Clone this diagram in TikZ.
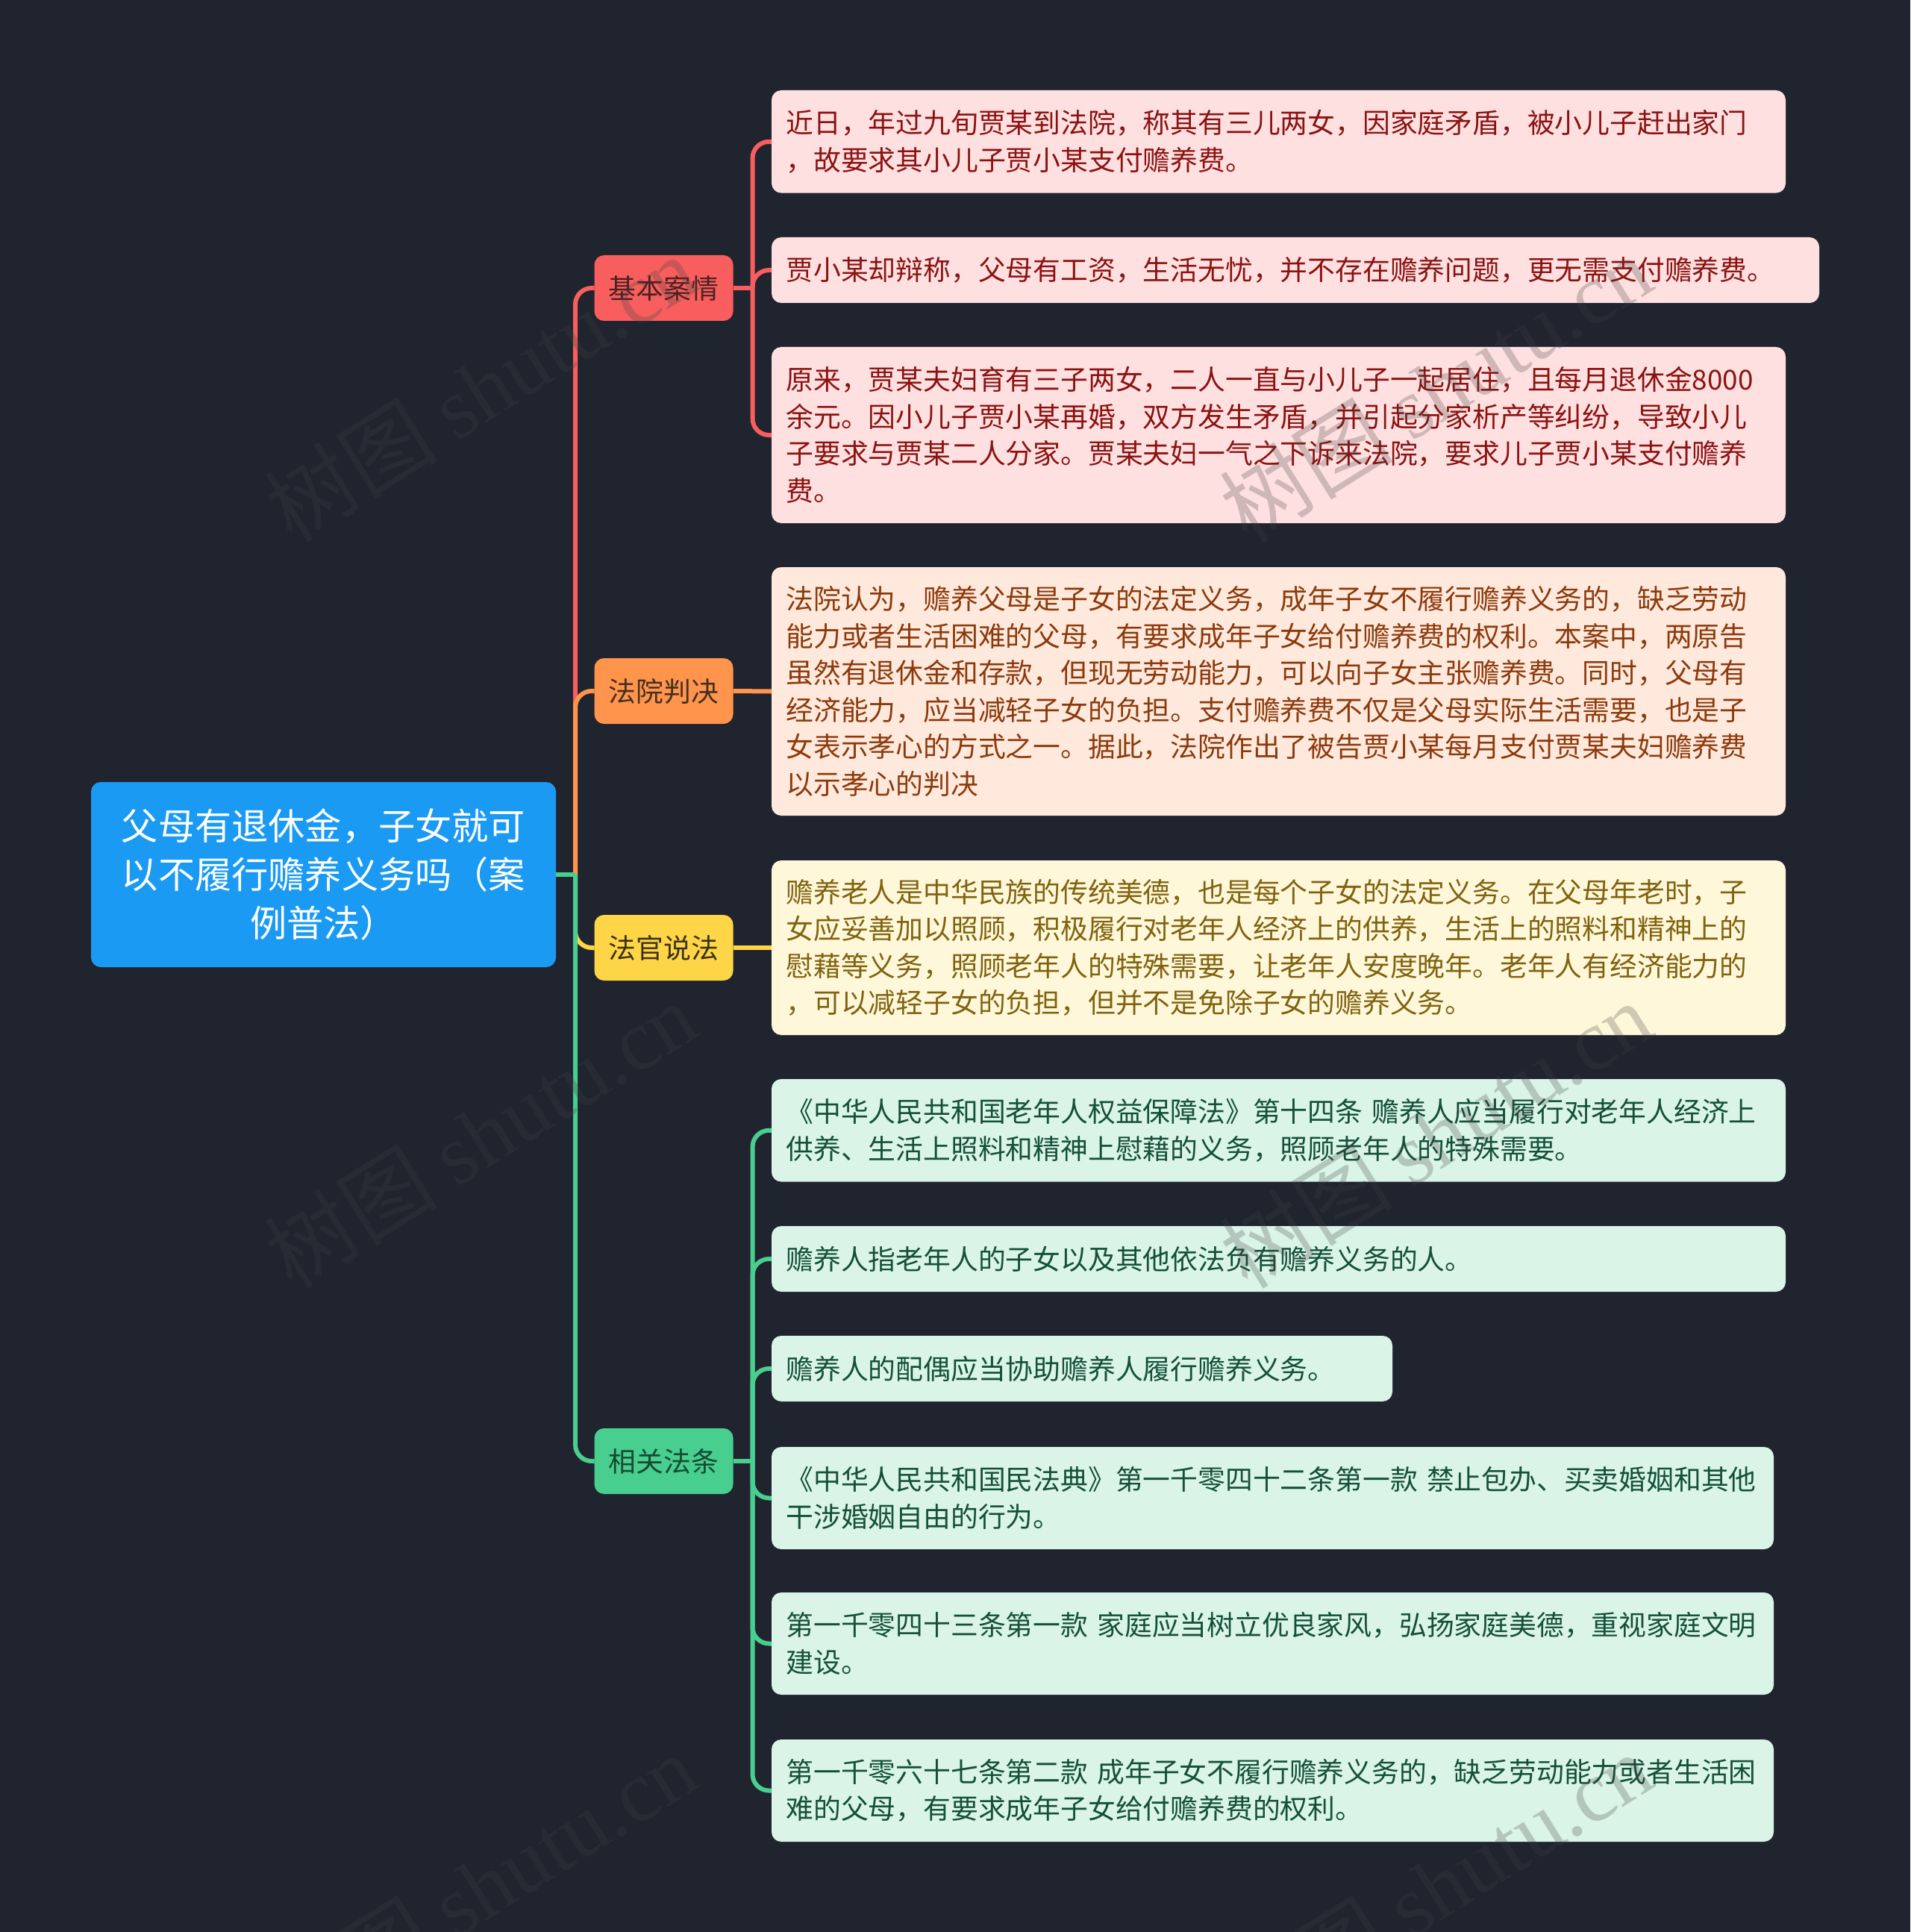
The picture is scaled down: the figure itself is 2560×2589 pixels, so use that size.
\documentclass[tikz,border=0pt]{standalone}
\usepackage{fontspec}
\setmainfont{Noto Sans CJK SC}
\newfontfamily\wmfont{Liberation Serif}
\newfontfamily\wmcjk{Noto Sans CJK SC}

\definecolor{bgcol}{HTML}{20242F}
\definecolor{rootcol}{HTML}{1A9AF2}
\definecolor{redcol}{HTML}{F85E5E}
\definecolor{redleaf}{HTML}{FFE0E0}
\definecolor{redtext}{HTML}{8B1212}
\definecolor{redhead}{HTML}{4A2222}
\definecolor{orangecol}{HTML}{FF944D}
\definecolor{orangeleaf}{HTML}{FFE9DD}
\definecolor{orangetext}{HTML}{8C3A0C}
\definecolor{orangehead}{HTML}{45301F}
\definecolor{yellowcol}{HTML}{FFD548}
\definecolor{yellowleaf}{HTML}{FFF7DA}
\definecolor{yellowtext}{HTML}{80630F}
\definecolor{yellowhead}{HTML}{3A3214}
\definecolor{greencol}{HTML}{48CE8F}
\definecolor{greenleaf}{HTML}{DAF4E8}
\definecolor{greentext}{HTML}{14503A}
\definecolor{greenhead}{HTML}{164A32}
\definecolor{markcol}{HTML}{404040}

\begin{document}
\begin{tikzpicture}[x=0.5pt, y=-0.5pt,
		box/.style={rounded corners=6.5pt, inner sep=0pt, outer sep=0pt},
		rootbox/.style={box, fill=rootcol, text=white, align=center, minimum width=311.5pt, minimum height=124pt, font=\fontsize{24.6}{32.6}\selectfont},
		headbox/.style={box, minimum width=93pt, minimum height=44pt, font=\fontsize{18.4}{24.75}\selectfont},
		leafbox/.style={box, anchor=north west, inner xsep=9.75pt, align=left, font=\fontsize{18.4}{24.75}\selectfont},
		link/.style={line width=3pt, rounded corners=11pt},
		wmark/.style={text=markcol, text opacity=0.25, rotate=32, font=\fontsize{58}{58}\selectfont}]
			\useasboundingbox (0,0) rectangle (2560,2589);
			\fill[bgcol] (0,0) rectangle (2560,2589);
			
			\node[rootbox] (root) at (433.5,1172) {父母有退休金，子女就可\\以不履行赡养义务吗（案\\例普法）};
			
			\node[headbox, fill=redcol, text=redhead] (jiben) at (889.5,386) {基本案情};
			\node[headbox, fill=orangecol, text=orangehead] (fayuan) at (889.5,926) {法院判决};
			\node[headbox, fill=yellowcol, text=yellowhead] (faguan) at (889.5,1270) {法官说法};
			\node[headbox, fill=greencol, text=greenhead] (fatiao) at (889.5,1958) {相关法条};
			
			\node[leafbox, fill=redleaf, text=redtext, text width=660pt, minimum height=68.8pt] (jibenA) at (1034,121) {近日，年过九旬贾某到法院，称其有三儿两女，因家庭矛盾，被小儿子赶出家门\\，故要求其小儿子贾小某支付赡养费。};
			\node[leafbox, fill=redleaf, text=redtext, text width=682.5pt, minimum height=44pt] (jibenB) at (1034,318) {贾小某却辩称，父母有工资，生活无忧，并不存在赡养问题，更无需支付赡养费。};
			\node[leafbox, fill=redleaf, text=redtext, text width=660pt, minimum height=118pt] (jibenC) at (1034,465) {原来，贾某夫妇育有三子两女，二人一直与小儿子一起居住，且每月退休金8000\\余元。因小儿子贾小某再婚，双方发生矛盾，并引起分家析产等纠纷，导致小儿\\子要求与贾某二人分家。贾某夫妇一气之下诉来法院，要求儿子贾小某支付赡养\\费。};
			
			\node[leafbox, fill=orangeleaf, text=orangetext, text width=660pt, minimum height=166.5pt] (fayuanA) at (1034,760) {法院认为，赡养父母是子女的法定义务，成年子女不履行赡养义务的，缺乏劳动\\能力或者生活困难的父母，有要求成年子女给付赡养费的权利。本案中，两原告\\虽然有退休金和存款，但现无劳动能力，可以向子女主张赡养费。同时，父母有\\经济能力，应当减轻子女的负担。支付赡养费不仅是父母实际生活需要，也是子\\女表示孝心的方式之一。据此，法院作出了被告贾小某每月支付贾某夫妇赡养费\\以示孝心的判决};
			
			\node[leafbox, fill=yellowleaf, text=yellowtext, text width=660pt, minimum height=117pt] (faguanA) at (1034,1153) {赡养老人是中华民族的传统美德，也是每个子女的法定义务。在父母年老时，子\\女应妥善加以照顾，积极履行对老年人经济上的供养，生活上的照料和精神上的\\慰藉等义务，照顾老年人的特殊需要，让老年人安度晚年。老年人有经济能力的\\，可以减轻子女的负担，但并不是免除子女的赡养义务。};
			
			\node[leafbox, fill=greenleaf, text=greentext, text width=660pt, minimum height=68.8pt] (fatiaoA) at (1034,1446) {《中华人民共和国老年人权益保障法》第十四条 赡养人应当履行对老年人经济上\\供养、生活上照料和精神上慰藉的义务，照顾老年人的特殊需要。};
			\node[leafbox, fill=greenleaf, text=greentext, text width=660pt, minimum height=44pt] (fatiaoB) at (1034,1643) {赡养人指老年人的子女以及其他依法负有赡养义务的人。};
			\node[leafbox, fill=greenleaf, text=greentext, text width=396.5pt, minimum height=44pt] (fatiaoC) at (1034,1790) {赡养人的配偶应当协助赡养人履行赡养义务。};
			\node[leafbox, fill=greenleaf, text=greentext, text width=652pt, minimum height=68.5pt] (fatiaoD) at (1034,1939) {《中华人民共和国民法典》第一千零四十二条第一款 禁止包办、买卖婚姻和其他\\干涉婚姻自由的行为。};
			\node[leafbox, fill=greenleaf, text=greentext, text width=652pt, minimum height=68.5pt] (fatiaoE) at (1034,2134) {第一千零四十三条第一款 家庭应当树立优良家风，弘扬家庭美德，重视家庭文明\\建设。};
			\node[leafbox, fill=greenleaf, text=greentext, text width=652pt, minimum height=68.5pt] (fatiaoF) at (1034,2331) {第一千零六十七条第二款 成年子女不履行赡养义务的，缺乏劳动能力或者生活困\\难的父母，有要求成年子女给付赡养费的权利。};
			
			\coordinate (trunk) at ([xshift=13pt]root.east);
			\coordinate (jibenT) at ([xshift=13pt]jiben.east);
			\coordinate (fatiaoT) at ([xshift=13pt]fatiao.east);
			
			\draw[link, redcol] (trunk) |- (jiben.west);
			\draw[link, orangecol] (trunk) |- (fayuan.west);
			\draw[link, yellowcol] (trunk) |- (faguan.west);
			\draw[link, greencol] (trunk) |- (fatiao.west);
			\draw[link, greencol] (root.east) -- (trunk);
			
			\draw[link, redcol] (jiben.east) -- (jibenT);
			\draw[link, redcol] (jibenT) |- (jibenA.west);
			\draw[link, redcol] (jibenT) |- (jibenB.west);
			\draw[link, redcol] (jibenT) |- (jibenC.west);
			
			\draw[link, orangecol] (fayuan.east) -- (fayuanA.west);
			\draw[link, yellowcol] (faguan.east) -- (faguanA.west);
			
			\draw[link, greencol] (fatiao.east) -- (fatiaoT);
			\draw[link, greencol] (fatiaoT) |- (fatiaoA.west);
			\draw[link, greencol] (fatiaoT) |- (fatiaoB.west);
			\draw[link, greencol] (fatiaoT) |- (fatiaoC.west);
			\draw[link, greencol] (fatiaoT) |- (fatiaoD.west);
			\draw[link, greencol] (fatiaoT) |- (fatiaoE.west);
			\draw[link, greencol] (fatiaoT) |- (fatiaoF.west);
			
			\node[wmark] (markA) at (644,520) {\wmcjk 树图 \wmfont shutu.cn};
			\node[wmark] (markB) at (1924,520) {\wmcjk 树图 \wmfont shutu.cn};
			\node[wmark] (markC) at (644,1520) {\wmcjk 树图 \wmfont shutu.cn};
			\node[wmark] (markD) at (1924,1520) {\wmcjk 树图 \wmfont shutu.cn};
			\node[wmark] (markE) at (644,2527) {\wmcjk 树图 \wmfont shutu.cn};
			\node[wmark] (markF) at (1924,2527) {\wmcjk 树图 \wmfont shutu.cn};
		\end{tikzpicture}
\end{document}
